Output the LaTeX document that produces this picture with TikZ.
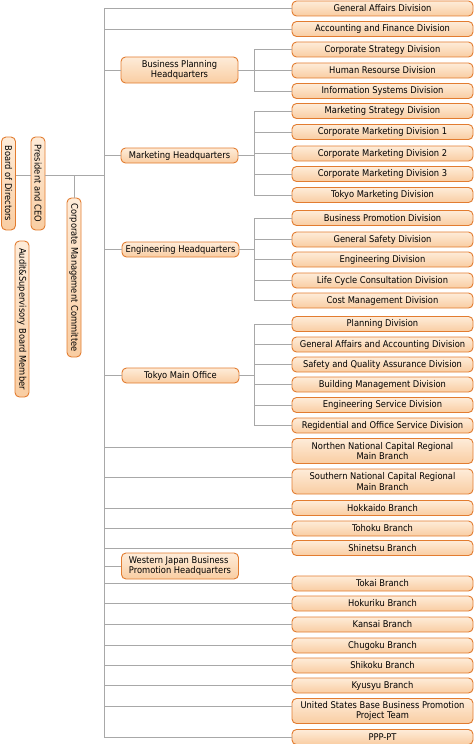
\documentclass[tikz,border=0pt]{standalone}
\usepackage{fontspec}
\setmainfont{DejaVu Sans Condensed}
\definecolor{boxline}{RGB}{226,124,48}
\definecolor{boxtop}{RGB}{254,236,217}
\definecolor{boxbot}{RGB}{249,205,162}
\definecolor{conncol}{RGB}{168,168,168}
\begin{document}
\begin{tikzpicture}[x=1bp,y=-1bp,
  obox/.style={draw=boxline, line width=0.9bp, rounded corners=4.5bp,
    top color=boxtop, bottom color=boxbot, inner sep=0pt, align=center,
    font=\fontsize{9.3}{10.6}\selectfont, minimum height=15bp},
  rbox/.style={obox, minimum width=181bp},
  rbox2/.style={rbox, minimum height=25bp},
  hbox/.style={obox, minimum width=117bp},
  hbox2/.style={hbox, minimum height=26bp},
  vbox/.style={obox, rotate=-90, minimum height=14bp},
  conn/.style={draw=conncol, line width=0.8bp},
]
\useasboundingbox (0,0) rectangle (474,744);

% right column
\node[rbox] (r1) at (382.5,8.5) {General Affairs Division};
\node[rbox] (r2) at (382.5,29) {Accounting and Finance Division};
\node[rbox] (r3) at (382.5,49.5) {Corporate Strategy Division};
\node[rbox] (r4) at (382.5,70.5) {Human Resourse Division};
\node[rbox] (r5) at (382.5,91) {Information Systems Division};
\node[rbox] (r6) at (382.5,111) {Marketing Strategy Division};
\node[rbox] (r7) at (382.5,132) {Corporate Marketing Division 1};
\node[rbox] (r8) at (382.5,153.5) {Corporate Marketing Division 2};
\node[rbox] (r9) at (382.5,174) {Corporate Marketing Division 3};
\node[rbox] (r10) at (382.5,195) {Tokyo Marketing Division};
\node[rbox] (r11) at (382.5,218) {Business Promotion Division};
\node[rbox] (r12) at (382.5,239.5) {General Safety Division};
\node[rbox] (r13) at (382.5,259.5) {Engineering Division};
\node[rbox] (r14) at (382.5,280.5) {Life Cycle Consultation Division};
\node[rbox] (r15) at (382.5,300.5) {Cost Management Division};
\node[rbox] (r16) at (382.5,324) {Planning Division};
\node[rbox] (r17) at (382.5,344.5) {General Affairs and Accounting Division};
\node[rbox] (r18) at (382.5,364.5) {Safety and Quality Assurance Division};
\node[rbox] (r19) at (382.5,384.5) {Building Management Division};
\node[rbox] (r20) at (382.5,405) {Engineering Service Division};
\node[rbox] (r21) at (382.5,425.5) {Regidential and Office Service Division};
\node[rbox2] (r22) at (382.5,451) {Northen National Capital Regional\\Main Branch};
\node[rbox2] (r23) at (382.5,481.5) {Southern National Capital Regional\\Main Branch};
\node[rbox] (r24) at (382.5,508) {Hokkaido Branch};
\node[rbox] (r25) at (382.5,528.5) {Tohoku Branch};
\node[rbox] (r26) at (382.5,548) {Shinetsu Branch};
\node[rbox] (r27) at (382.5,583.5) {Tokai Branch};
\node[rbox] (r28) at (382.5,603.5) {Hokuriku Branch};
\node[rbox] (r29) at (382.5,624.5) {Kansai Branch};
\node[rbox] (r30) at (382.5,645.5) {Chugoku Branch};
\node[rbox] (r31) at (382.5,665.5) {Shikoku Branch};
\node[rbox] (r32) at (382.5,685.5) {Kyusyu Branch};
\node[rbox2] (r33) at (382.5,711) {United States Base Business Promotion\\Project Team};
\node[rbox] (r34) at (382.5,737) {PPP-PT};

% headquarters
\node[hbox2] (hq1) at (179.5,70) {Business Planning\\Headquarters};
\node[hbox] (hq2) at (179.5,155.5) {Marketing Headquarters};
\node[hbox] (hq3) at (180.5,249.5) {Engineering Headquarters};
\node[hbox] (hq4) at (180.5,375.5) {Tokyo Main Office};
\node[hbox2, align=left] (hq5) at (180,566) {Western Japan Business\\Promotion Headquarters};

% left vertical boxes
\node[vbox, minimum width=93bp] (bod) at (8.5,183.5) {Board of Directors};
\node[vbox, minimum width=93bp] (ceo) at (38,183.5) {President and CEO};
\node[vbox, minimum width=159bp] (cmc) at (74,277.5) {Corporate Management Committee};
\node[vbox, minimum width=156bp] (aud) at (22,319) {Audit\&Supervisory Board Member};

% trunk
\coordinate (tt) at (104,8.5);
\coordinate (tb) at (104,737);
\coordinate (lvl) at (104,175);
\draw[conn] (tt) -- (tb);
\draw[conn] (bod.north |- lvl) -- (ceo.south |- lvl);
\draw[conn] (ceo.north |- lvl) -- (lvl);
\draw[conn] (lvl -| cmc.west) -- (cmc.west);

% direct branches from trunk
\foreach \n in {r1,r2,r24,r25,r26,r27,r28,r29,r30,r31,r32,r34,hq1,hq2,hq3,hq4,hq5}
  \draw[conn] (\n.west -| tt) -- (\n.west);
\draw[conn] ([yshift=4bp]r22.west -| tt) -- ([yshift=4bp]r22.west);
\draw[conn] ([yshift=4bp]r23.west -| tt) -- ([yshift=4bp]r23.west);
\draw[conn] ([yshift=5bp]r33.west -| tt) -- ([yshift=5bp]r33.west);

% brackets
\coordinate (bx) at (254,0);
\draw[conn] (hq1.east) -- (hq1.east -| bx);
\draw[conn] (r3.west -| bx) -- (r5.west -| bx);
\foreach \n in {r3,r4,r5} \draw[conn] (\n.west -| bx) -- (\n.west);
\draw[conn] (hq2.east) -- (hq2.east -| bx);
\draw[conn] (r6.west -| bx) -- (r10.west -| bx);
\foreach \n in {r6,r7,r8,r9,r10} \draw[conn] (\n.west -| bx) -- (\n.west);
\draw[conn] (hq3.east) -- (hq3.east -| bx);
\draw[conn] (r11.west -| bx) -- (r15.west -| bx);
\foreach \n in {r11,r12,r13,r14,r15} \draw[conn] (\n.west -| bx) -- (\n.west);
\draw[conn] (hq4.east) -- (hq4.east -| bx);
\draw[conn] (r16.west -| bx) -- (r21.west -| bx);
\foreach \n in {r16,r17,r18,r19,r20,r21} \draw[conn] (\n.west -| bx) -- (\n.west);
\end{tikzpicture}
\end{document}
